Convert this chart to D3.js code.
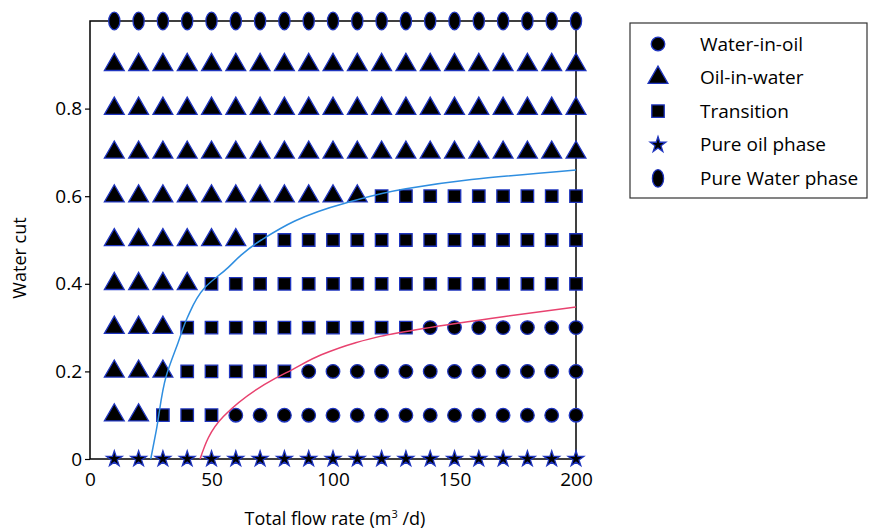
<!DOCTYPE html>
<html>
<head>
<meta charset="utf-8">
<script src="https://cdn.jsdelivr.net/npm/d3@7"></script>
<style>
  body { margin: 0; background: #fff; }
  svg { display: block; }
  svg text { font-family: "Open Sans", sans-serif; }
</style>
</head>
<body>
<div id="chart"></div>
<script>
// flow rates (m3/d) of the test points, one column per rate
var flowRates = [10, 20, 30, 40, 50, 60, 70, 80, 90, 100, 110, 120, 130, 140, 150, 160, 170, 180, 190, 200]
// water cut of each row of test points
var waterCuts = [0, 0.1, 0.2, 0.3, 0.4, 0.5, 0.6, 0.7, 0.8, 0.9, 1.0]
// regime for each point in the row, one letter per flow rate
// W = water-in-oil, O = oil-in-water, T = transition, P = pure oil, E = pure water
var regimes = [
  "PPPPPPPPPPPPPPPPPPPP",
  "OOTTTWWWWWWWWWWWWWWW",
  "OOOTTTTTWWWWWWWWWWWW",
  "OOOTTTTTTTTTTWWWWWWW",
  "OOOOTTTTTTTTTTTTTTTT",
  "OOOOOOTTTTTTTTTTTTTT",
  "OOOOOOOOOOOTTTTTTTTT",
  "OOOOOOOOOOOOOOOOOOOO",
  "OOOOOOOOOOOOOOOOOOOO",
  "OOOOOOOOOOOOOOOOOOOO",
  "EEEEEEEEEEEEEEEEEEEE"
]
var legendKeys = ["W", "O", "T", "P", "E"]
var legendLabels = ["Water-in-oil", "Oil-in-water", "Transition", "Pure oil phase", "Pure Water phase"]

// boundary curves
var blueX = [25, 27.3, 31.4, 36.2, 40, 47.2, 56.8, 62.3, 70.5, 104.9, 130, 157, 200]
var blueY = [0, 0.066, 0.19, 0.265, 0.322, 0.391, 0.437, 0.466, 0.5, 0.584, 0.617, 0.638, 0.66]
var redX = [45.3, 54.9, 76.2, 82.9, 95.2, 109, 119.4, 137.3, 170, 200]
var redY = [0, 0.097, 0.184, 0.203, 0.238, 0.265, 0.28, 0.298, 0.325, 0.347]

var yTicks = [0, 0.2, 0.4, 0.6, 0.8]
var xTicks = [0, 50, 100, 150, 200]

var width = 871
var height = 531
var plotL = 90, plotR = 576, plotT = 21, plotB = 459

var svg = d3.select("#chart")
  .append("svg")
    .attr("width", width)
    .attr("height", height)

var x = d3.scaleLinear().domain([0, 200]).range([plotL, plotR])
var y = d3.scaleLinear().domain([0, 1]).range([plotB, plotT])

var fill = "#000"
var edge = "#2036c0"

// draws one marker of a given regime into a selection
function drawMarker(g, key) {
  if (key == "E") {
    g.append("ellipse").attr("rx", 5.6).attr("ry", 8.8)
  } else {
    var types = { W: d3.symbolCircle, O: d3.symbolTriangle, T: d3.symbolSquare, P: d3.symbolStar }
    var sizes = { W: 145, O: 170, T: 156, P: 76 }
    g.append("path").attr("d", d3.symbol().type(types[key]).size(sizes[key])())
  }
  g.selectAll("*")
    .attr("fill", fill)
    .attr("stroke", edge)
    .attr("stroke-width", 1.3)
}

// frame
svg.append("rect")
  .attr("x", plotL).attr("y", plotT)
  .attr("width", plotR - plotL).attr("height", plotB - plotT)
  .attr("fill", "none")
  .attr("stroke", "#000")
  .attr("stroke-width", 1.5)

// axes
var yAxis = svg.append("g")
  .attr("transform", "translate(" + plotL + ",0)")
  .call(d3.axisLeft(y).tickValues(yTicks).tickSize(5).tickPadding(3)
    .tickFormat(function(d) { return d == 0 ? "0" : d3.format(".1f")(d) }))
yAxis.select(".domain").remove()
yAxis.selectAll("text").style("font-size", "19px").attr("fill", "#000")
yAxis.selectAll("line").attr("stroke", "#000").attr("stroke-width", 1.2)

var xAxis = svg.append("g")
  .attr("transform", "translate(0," + plotB + ")")
  .call(d3.axisBottom(x).tickValues(xTicks).tickSize(0).tickPadding(14))
xAxis.select(".domain").remove()
xAxis.selectAll("text").style("font-size", "19px").attr("fill", "#000")

// points
var points = []
waterCuts.forEach(function(wc, i) {
  flowRates.forEach(function(q, j) {
    points.push({ q: q, wc: wc, key: regimes[i][j] })
  })
})

svg.selectAll(".pt")
  .data(points)
  .enter()
  .append("g")
    .attr("class", "pt")
    .attr("transform", function(d) { return "translate(" + x(d.q) + "," + y(d.wc) + ")" })
    .each(function(d) { drawMarker(d3.select(this), d.key) })

// boundary lines
var line = d3.line()
  .x(function(d) { return x(d[0]) })
  .y(function(d) { return y(d[1]) })
  .curve(d3.curveMonotoneY)

svg.append("path")
  .attr("d", line(d3.zip(blueX, blueY)))
  .attr("fill", "none")
  .attr("stroke", "#2f8ee0")
  .attr("stroke-width", 1.5)

svg.append("path")
  .attr("d", line(d3.zip(redX, redY)))
  .attr("fill", "none")
  .attr("stroke", "#e8426f")
  .attr("stroke-width", 1.5)

// axis titles
svg.append("text")
  .attr("transform", "translate(26," + ((plotT + plotB) / 2 + 18) + ") rotate(-90)")
  .attr("text-anchor", "middle")
  .style("font-size", "18px")
  .text("Water cut")

var xt = svg.append("text")
  .attr("x", (plotL + plotR) / 2 + 2)
  .attr("y", 525)
  .attr("text-anchor", "middle")
  .style("font-size", "18px")
xt.append("tspan").text("Total flow rate (m")
xt.append("tspan").attr("dy", -7).style("font-size", "11px").text("3")
xt.append("tspan").attr("dy", 7).text(" /d)")

// legend
var legend = svg.append("g")
svg.append("rect")
  .attr("x", 630).attr("y", 23)
  .attr("width", 237).attr("height", 175)
  .attr("fill", "none")
  .attr("stroke", "#333")
  .attr("stroke-width", 1.2)

legendKeys.forEach(function(k, i) {
  var row = legend.append("g").attr("transform", "translate(658," + (44 + i * 33.6) + ")")
  drawMarker(row.append("g"), k)
  row.append("text")
    .attr("x", 42)
    .attr("dy", "0.35em")
    .style("font-size", "19px")
    .text(legendLabels[i])
})
</script>
</body>
</html>
